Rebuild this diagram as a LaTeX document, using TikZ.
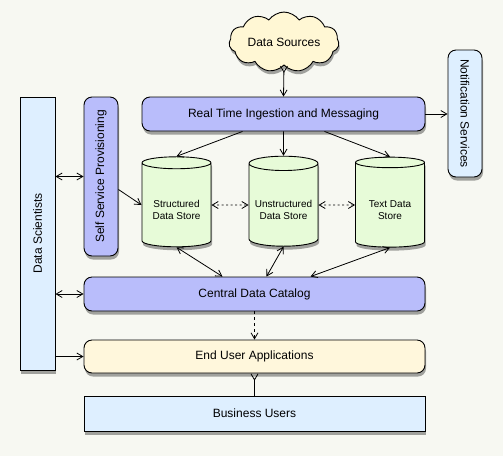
\documentclass[tikz,border=0pt]{standalone}
\usepackage{fontspec}
\setmainfont{Liberation Sans}
\usetikzlibrary{shapes.geometric,shapes.symbols,shadows,arrows.meta,calc}
\definecolor{bg}{RGB}{247,248,242}
\definecolor{boxblue}{RGB}{185,189,251}
\definecolor{lightblue}{RGB}{222,239,255}
\definecolor{cream}{RGB}{255,247,220}
\definecolor{cloudcol}{RGB}{255,247,212}
\definecolor{cylgreen}{RGB}{231,251,216}
\begin{document}
\begin{tikzpicture}[x=1pt,y=-1pt,font=\fontsize{12}{14}\selectfont,
  shad/.style={drop shadow={shadow xshift=1pt,shadow yshift=-3.5pt,opacity=0.35,fill=black}},
  base/.style={draw=black,line width=0.9pt,shad,inner sep=0pt},
  rbox/.style={base,rounded corners=8pt,fill=boxblue},
  sqbox/.style={base,fill=lightblue},
  cyl/.style={base,cylinder,shape border rotate=90,aspect=0.25,fill=cylgreen,
    minimum width=69pt,minimum height=90pt,align=center,font=\fontsize{10}{12}\selectfont},
  cloudnode/.style={base,cloud,cloud puffs=11,cloud puff arc=110,aspect=2.2,fill=cloudcol,
    minimum width=110pt,minimum height=50pt},
  arr/.style={line width=0.8pt,-{Straight Barb[length=6pt,width=7pt]}},
  darr/.style={line width=0.8pt,{Straight Barb[length=6pt,width=7pt]}-{Straight Barb[length=6pt,width=7pt]}},
  dotarr/.style={darr,dash pattern=on 2pt off 2.5pt},
]
\fill[bg] (0,0) rectangle (503,456);
\useasboundingbox (0,0) rectangle (503,456);

\node[cloudnode] (src) at (284,42) {Data Sources};
\node[rbox,minimum width=283pt,minimum height=34pt] (ing) at (283.5,114) {Real Time Ingestion and Messaging};
\node[rbox,fill=lightblue,minimum width=34pt,minimum height=127pt] (ns) at (465,113.5) {\rotatebox{-90}{Notification Services}};
\node[sqbox,minimum width=35pt,minimum height=273pt] (ds) at (37.5,233.5) {\rotatebox{90}{Data Scientists}};
\node[rbox,minimum width=34pt,minimum height=159pt] (ssp) at (101,176.5) {\rotatebox{90}{Self Service Provisioning}};
\node[cyl] (s1) at (176.5,205) {\rule{0pt}{8pt}\\[-2pt]Structured\\Data Store};
\node[cyl] (s2) at (283.5,205) {\rule{0pt}{8pt}\\[-2pt]Unstructured\\Data Store};
\node[cyl] (s3) at (390,205) {\rule{0pt}{8pt}\\[-2pt]Text Data\\Store};
\node[rbox,minimum width=341pt,minimum height=34pt] (cat) at (254.5,294) {Central Data Catalog};
\node[rbox,fill=cream,minimum width=341pt,minimum height=33pt] (eua) at (254.5,356.5) {End User Applications};
\node[sqbox,minimum width=341pt,minimum height=35pt] (bu) at (254.5,413.5) {Business Users};

\draw[line width=0.8pt,{Straight Barb[reversed,length=6pt,width=7pt]}-{Straight Barb[length=6pt,width=7pt]}] (src.south) -- (ing.north);
\draw[arr] (ing.east) -- (ns.west |- ing.east);
\draw[arr] ($(ing.south)+(-41,0)$) -- (s1.north);
\draw[arr] (ing.south) -- (s2.north);
\draw[arr] ($(ing.south)+(41,0)$) -- (s3.north);
\draw[darr] (ds.east |- ssp.west) -- (ssp.west);
\draw[arr] ($(ssp.east)+(0,13)$) -- (s1.west);
\draw[dotarr] (s1.east) -- (s2.west);
\draw[dotarr] (s2.east) -- (s3.west);
\draw[darr] (s1.south) -- ($(cat.north)+(-32,0)$);
\draw[darr] (s2.south) -- ($(cat.north)+(12,0)$);
\draw[darr] (s3.south) -- ($(cat.north)+(56,0)$);
\draw[darr] (ds.east |- cat.west) -- (cat.west);
\draw[arr] (ds.east |- eua.west) -- (eua.west);
\draw[arr,dashed] (cat.south) -- (eua.north);
\draw[line width=0.8pt,-{Straight Barb[reversed,length=6pt,width=7pt]}] (bu.north) -- (eua.south);
\end{tikzpicture}
\end{document}
